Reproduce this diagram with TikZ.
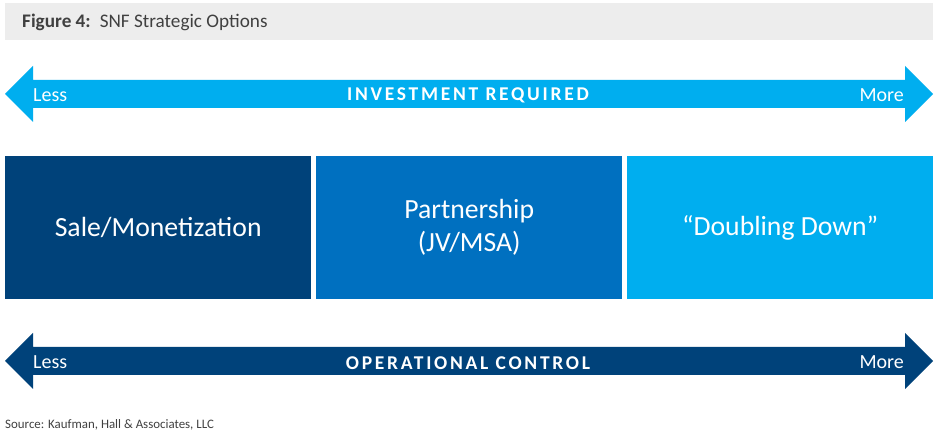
\documentclass[tikz,border=0pt]{standalone}
\usepackage{fontspec}
\setmainfont{Carlito}
\usetikzlibrary{calc,positioning}
\definecolor{snfcyan}{HTML}{00AEEF}
\definecolor{snfblue}{HTML}{0070C0}
\definecolor{snfnavy}{HTML}{00427A}
\definecolor{titlegray}{HTML}{EDEDED}
\definecolor{textgray}{HTML}{404040}
\newcommand{\wide}[1]{{\addfontfeatures{LetterSpace=14}#1}}

\begin{document}
\begin{tikzpicture}[x=1pt,y=-1pt,
    option/.style={minimum width=306pt,minimum height=143pt,inner sep=0pt,
      text=white,align=center,font=\fontsize{27.7}{33}\selectfont},
    ends/.style={text=white,font=\fontsize{20}{24}\selectfont,inner sep=0pt},
    axis/.style={text=white,font=\bfseries\fontsize{19.5}{23}\selectfont,inner sep=0pt}]
    \useasboundingbox[fill=white] (0,0) rectangle (938,438);

    % title bar
    \fill[titlegray] (5,3) rectangle (933,40);
    \node[anchor=west,text=textgray,font=\fontsize{19.2}{23}\selectfont,inner sep=0pt]
      (title) at (22,22) {\textbf{Figure 4:}\, SNF Strategic Options};

    % arrows
    \coordinate (A) at (5,94);
    \coordinate (A2) at (933,94);
    \coordinate (B) at (5,361);
    \coordinate (B2) at (933,361);
    \fill[snfcyan] (A) -- ($(A)+(28,-28)$) -- ($(A)+(28,-14)$) -- ($(A2)+(-28,-14)$)
      -- ($(A2)+(-28,-28)$) -- (A2) -- ($(A2)+(-28,28)$) -- ($(A2)+(-28,14)$)
      -- ($(A)+(28,14)$) -- ($(A)+(28,28)$) -- cycle;
    \fill[snfnavy] (B) -- ($(B)+(28,-28)$) -- ($(B)+(28,-14)$) -- ($(B2)+(-28,-14)$)
      -- ($(B2)+(-28,-28)$) -- (B2) -- ($(B2)+(-28,28)$) -- ($(B2)+(-28,14)$)
      -- ($(B)+(28,14)$) -- ($(B)+(28,28)$) -- cycle;

    \node[ends,anchor=west] (lessA) at (33,95) {Less};
    \node[ends,anchor=east] (moreA) at (904,95) {More};
    \node[axis] (invest) at (468,95) {\wide{INVESTMENT REQUIRED}};
    \node[ends,anchor=west] (lessB) at (33,362) {Less};
    \node[ends,anchor=east] (moreB) at (904,362) {More};
    \node[axis] (control) at (468,363) {\wide{OPERATIONAL CONTROL}};

    % options
    \node[option,fill=snfnavy,anchor=north west] (sale) at (5,156) {\raisebox{-2pt}{Sale/Monetization}};
    \node[option,fill=snfblue,anchor=north west] (partner) at (316,156) {\raisebox{-2pt}{Partnership}\\\raisebox{-2pt}{(JV/MSA)}};
    \node[option,fill=snfcyan,anchor=north west] (double) at (627,156) {\raisebox{-2pt}{``Doubling Down''}};

    \node[anchor=west,text=textgray,font=\fontsize{12.9}{15}\selectfont,inner sep=0pt]
      (source) at (5,425) {Source: Kaufman, Hall \& Associates, LLC};
  \end{tikzpicture}
\end{document}
